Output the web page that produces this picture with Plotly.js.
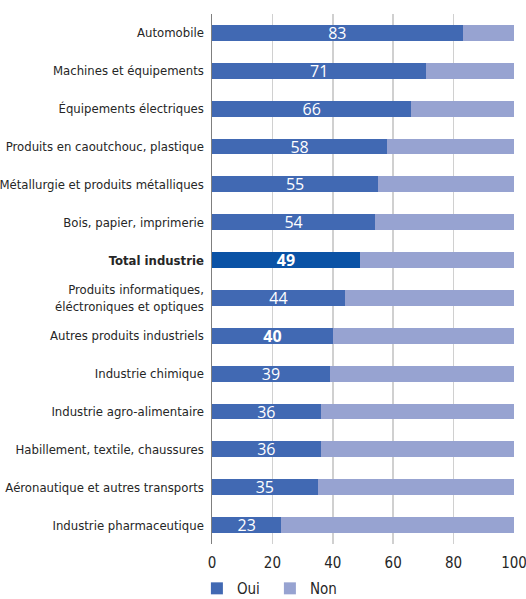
<!DOCTYPE html>
<html><head><meta charset="utf-8">
<script src="https://cdn.plot.ly/plotly-3.0.1.min.js"></script>
<style>body{margin:0;padding:0;background:#fff}#c{width:526px;height:599px}</style>
</head><body><div id="c"></div>
<script>
const categories = [
  "Automobile",
  "Machines et équipements",
  "Équipements électriques",
  "Produits en caoutchouc, plastique",
  "Métallurgie et produits métalliques",
  "Bois, papier, imprimerie",
  "<b>Total industrie</b>",
  "Produits informatiques,<br>éléctroniques et optiques",
  "Autres produits industriels",
  "Industrie chimique",
  "Industrie agro-alimentaire",
  "Habillement, textile, chaussures",
  "Aéronautique et autres transports",
  "Industrie pharmaceutique"
];
const oui = [83, 71, 66, 58, 55, 54, 49, 44, 40, 39, 36, 36, 35, 23];
const non = [17, 29, 34, 42, 45, 46, 51, 56, 60, 61, 64, 64, 65, 77];
const ouiLabels = ["83","71","66","58","55","54","<b>49</b>","44","<b>40</b>","39","36","36","35","23"];
const xTicks = [0, 20, 40, 60, 80, 100];

const ouiColors = categories.map(c => c.indexOf("Total") >= 0 ? "#0a52a5" : "#4169b3");

const data = [
  {type:"bar", orientation:"h", name:"Oui", y:categories, x:oui,
   marker:{color:ouiColors}, text:ouiLabels, texttemplate:"%{text}", textposition:"inside",
   insidetextanchor:"middle", textangle:0, constraintext:"none", cliponaxis:false,
   textfont:{color:"#ffffff", size:16, family:"Open Sans, sans-serif"}, hoverinfo:"none"},
  {type:"bar", orientation:"h", name:"Non", y:categories, x:non,
   marker:{color:"#97a3d1"}, hoverinfo:"none"}
];
const layout = {
  width:526, height:599, barmode:"stack", bargap:0.58,
  margin:{l:212, r:12, t:14, b:55, autoexpand:false},
  paper_bgcolor:"#fff", plot_bgcolor:"#fff",
  font:{family:"DejaVu Sans Condensed, Liberation Sans Narrow, sans-serif", size:13, color:"#262626"},
  xaxis:{range:[0,100.001], tickvals:xTicks, showgrid:true, gridcolor:"#d0d0d0", gridwidth:1.5,
         zeroline:false, showline:false, ticks:"", tickfont:{size:15}, fixedrange:true,
         ticklabeloverflow:"allow", automargin:false, ticklabelstandoff:8},
  yaxis:{autorange:"reversed", categoryorder:"array", categoryarray:categories,
         showline:true, linecolor:"#7f7f7f", linewidth:1.5, ticks:"", ticklabelstandoff:4,
         tickfont:{size:13}, automargin:false},
  showlegend:true,
  legend:{orientation:"h", x:-0.05, xanchor:"left", y:-0.053, yanchor:"top",
          bgcolor:"rgba(0,0,0,0)",
          font:{size:15}, itemwidth:30, entrywidth:28, entrywidthmode:"pixels", traceorder:"normal"},
  uniformtext:{mode:false}
};
Plotly.newPlot("c", data, layout, {displayModeBar:false, staticPlot:true});
</script></body></html>
